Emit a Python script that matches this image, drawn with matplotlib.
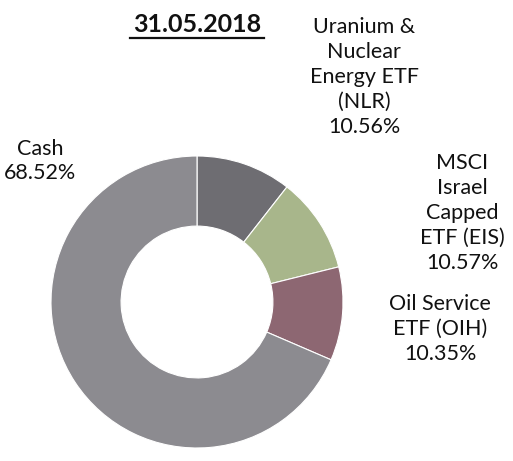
import matplotlib.pyplot as plt

labels = ['Uranium &\nNuclear\nEnergy ETF\n(NLR)', 'MSCI\nIsrael\nCapped\nETF (EIS)',
          'Oil Service\nETF (OIH)', 'Cash']
shares = [10.56, 10.57, 10.35, 68.52]
colors = ['#6e6d72', '#a8b68b', '#8d6772', '#8c8b90']
title = '31.05.2018'

# label centres in pixels (x from left, y from top)
label_pos = [(364, 77), (462, 213), (440, 329), (40, 161)]

plt.rcParams['font.family'] = ['Lato', 'DejaVu Sans']

W, H = 513, 461
fig = plt.figure(figsize=(W / 100, H / 100), dpi=100)
ax = fig.add_axes([0, 0, 1, 1])

R = 146.0
cx, cy = 197, 302
ax.pie(shares, colors=colors, startangle=90, counterclock=False, radius=1,
       wedgeprops=dict(width=0.48, edgecolor='white', linewidth=0.8))
ax.set_xlim(-cx / R, (W - cx) / R)
ax.set_ylim(-(H - cy) / R, cy / R)
ax.set_aspect('equal')
ax.axis('off')

for lab, val, (px, py) in zip(labels, shares, label_pos):
    fig.text(px / W, 1 - py / H, f'{lab}\n{val:.2f}%', ha='center', va='center',
             fontsize=15.5, linespacing=1.3, color='#111111')

fig.text(197 / W, 1 - 25 / H, title, ha='center', va='center', fontsize=18,
         fontweight='bold', color='#111111')
# underline under the title
fig.add_artist(plt.Line2D([130 / W, 264 / W], [1 - 38 / H, 1 - 38 / H],
                          color='#111111', linewidth=1.6))

fig.savefig('out.png', dpi=100)
